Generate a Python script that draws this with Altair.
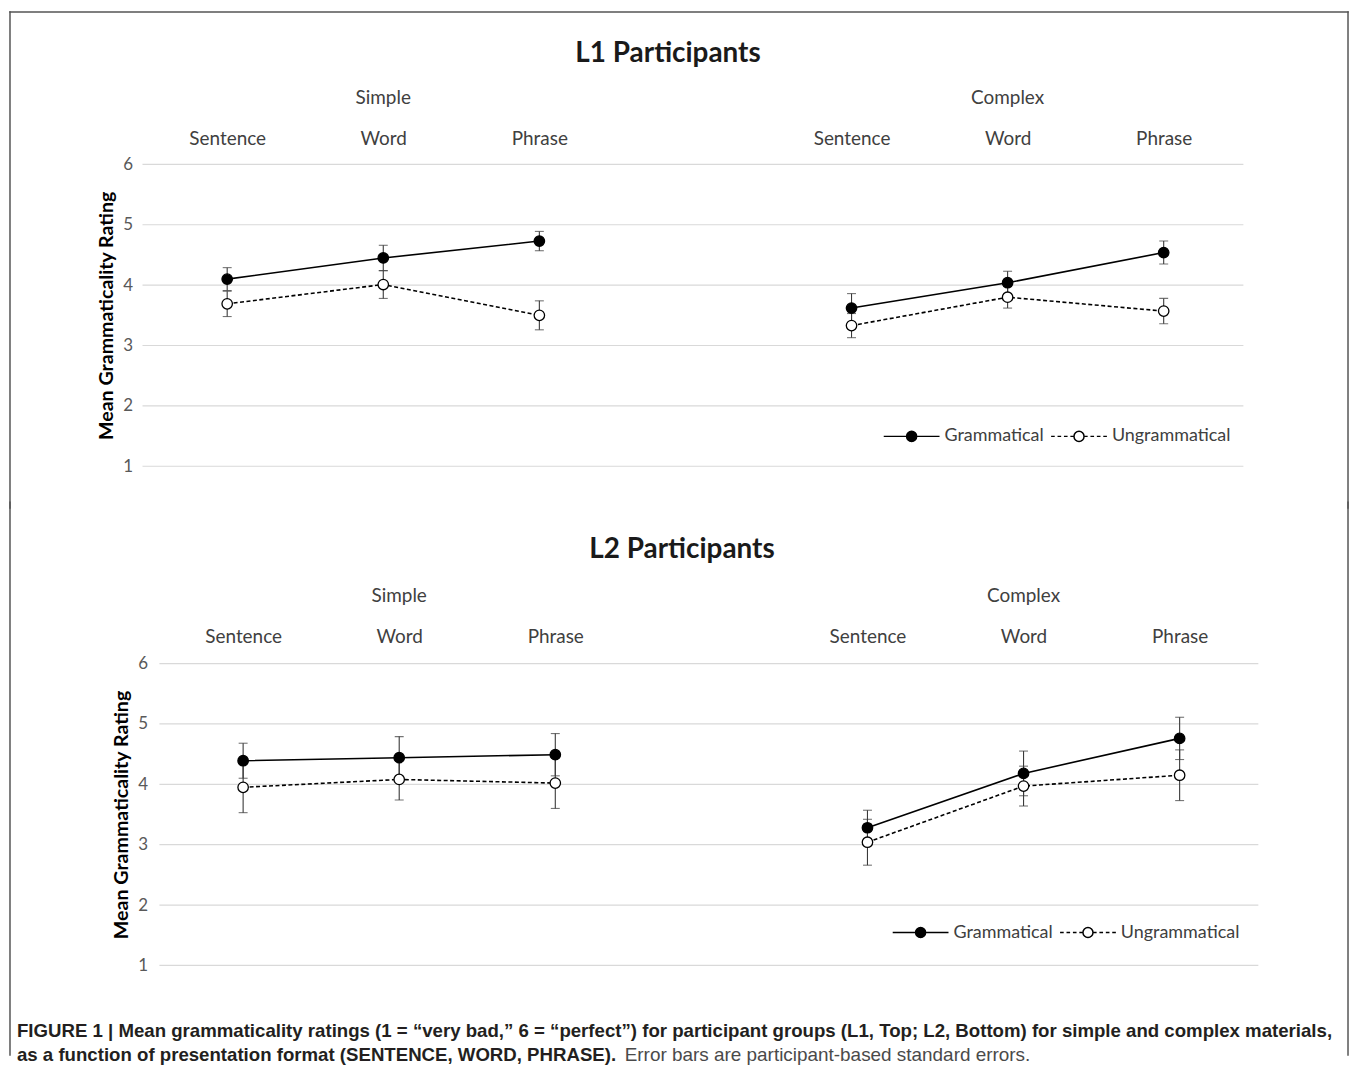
import altair as alt
import pandas as pd

# ---------------- data ----------------
categories = ["Sentence", "Word", "Phrase"]
groups = ["Simple", "Complex"]
types = ["Grammatical", "Ungrammatical"]
y_ticks = [1, 2, 3, 4, 5, 6]

# order: Simple Sentence, Word, Phrase, Complex Sentence, Word, Phrase
l1_gram_mean = [4.10, 4.45, 4.73, 3.62, 4.04, 4.54]
l1_gram_se = [0.19, 0.21, 0.16, 0.24, 0.19, 0.19]
l1_ungram_mean = [3.69, 4.01, 3.50, 3.33, 3.80, 3.57]
l1_ungram_se = [0.21, 0.23, 0.24, 0.20, 0.18, 0.21]

l2_gram_mean = [4.39, 4.44, 4.49, 3.28, 4.18, 4.76]
l2_gram_se = [0.29, 0.35, 0.35, 0.29, 0.37, 0.35]
l2_ungram_mean = [3.95, 4.08, 4.02, 3.04, 3.97, 4.15]
l2_ungram_se = [0.42, 0.34, 0.42, 0.38, 0.33, 0.42]

panel_titles = ["L1 Participants", "L2 Participants"]
y_title = "Mean Grammaticality  Rating"

caption_line1 = ("FIGURE 1 | Mean grammaticality ratings (1 = \u201cvery bad,\u201d 6 = \u201cperfect\u201d) "
                 "for participant groups (L1, Top; L2, Bottom) for simple and complex materials,")
caption_line2_bold = "as a function of presentation format (SENTENCE, WORD, PHRASE)."
caption_line2_normal = "Error bars are participant-based standard errors."

# ---------------- helpers ----------------
FONT = "Lato"
slot_domain = ([f"{groups[0]}|{c}" for c in categories] + ["gap"]
               + [f"{groups[1]}|{c}" for c in categories])


def make_df(gm, gs, um, us):
    rows = []
    combos = [(g, c) for g in groups for c in categories]
    for t, m, s in ((types[0], gm, gs), (types[1], um, us)):
        for i, (g, c) in enumerate(combos):
            rows.append({"type": t, "group": g, "cat": c, "slot": f"{g}|{c}",
                         "mean": m[i], "lo": m[i] - s[i], "hi": m[i] + s[i]})
    return pd.DataFrame(rows)


R = 0.18
circle = f"M{R},0A{R},{R},0,1,1,-{R},0A{R},{R},0,1,1,{R},0Z"
G_PATH = f"M-1,0L-{R},0M{R},0L1,0" + circle
dash_segs = [(-1, -0.87), (-0.77, -0.64), (-0.54, -0.41), (-0.31, -0.18),
             (0.18, 0.31), (0.41, 0.54), (0.64, 0.77), (0.87, 1)]
U_PATH = "".join(f"M{a},0L{b},0" for a, b in dash_segs) + circle

EB = "#3a3a3a"
BORDER = "#555555"
one = pd.DataFrame({"k": [0]})
X_LEFT, X_RIGHT = -133, 1210


def border_layers(y_top, y_bot, top_line):
    lay = [
        alt.Chart(one).mark_rule(color=BORDER, strokeWidth=1.5, strokeCap="square").encode(
            x=alt.value(X_LEFT), y=alt.value(y_top), y2=alt.value(y_bot)),
        alt.Chart(one).mark_rule(color=BORDER, strokeWidth=1.5, strokeCap="square").encode(
            x=alt.value(X_RIGHT), y=alt.value(y_top), y2=alt.value(y_bot)),
    ]
    if top_line:
        lay.append(alt.Chart(one).mark_rule(color=BORDER, strokeWidth=1.5, strokeCap="square").encode(
            x=alt.value(X_LEFT), x2=alt.value(X_RIGHT), y=alt.value(y_top)))
    return lay


def caption_layers(y1, y2):
    size = 18.7
    return [
        alt.Chart(one).mark_text(align="left", baseline="middle", font="Liberation Sans", fontSize=size,
                                 fontWeight="bold", color="#231f20", text=caption_line1).encode(
            x=alt.value(-126), y=alt.value(y1)),
        alt.Chart(one).mark_text(align="left", baseline="middle", font="Liberation Sans", fontSize=size,
                                 fontWeight="bold", color="#231f20", text=caption_line2_bold).encode(
            x=alt.value(-126), y=alt.value(y2)),
        alt.Chart(one).mark_text(align="left", baseline="middle", font="Liberation Sans", fontSize=19,
                                 fontWeight="normal", color="#4a4a4a", text=caption_line2_normal).encode(
            x=alt.value(484), y=alt.value(y2)),
    ]


def panel(title, gm, gs, um, us, xr, gx, axis_off, title_dx, title_off,
          grp_y, lab_pad, leg_x, leg_y, extra):
    df = make_df(gm, gs, um, us)
    grid_df = pd.DataFrame({"tick": y_ticks})
    grp_df = pd.DataFrame({"slot": [f"{g}|Word" for g in groups], "label": groups})

    xenc = alt.X("slot:N",
                 scale=alt.Scale(type="point", domain=slot_domain, range=xr, padding=0.5),
                 axis=alt.Axis(orient="top", title=None, ticks=False, tickSize=0, domain=False,
                               grid=False, labelAngle=0, labelPadding=lab_pad,
                               labelBaseline="middle", labelFont=FONT, labelFontSize=19,
                               labelColor="#404040",
                               labelExpr="datum.label == 'gap' ? '' : split(datum.label, '|')[1]"))
    yscale = alt.Scale(domain=[1, 6], nice=False, zero=False)
    yaxis = alt.Axis(values=y_ticks, grid=False, domain=False, ticks=False, tickSize=0,
                     offset=axis_off, labelPadding=10, labelFont=FONT, labelFontSize=17,
                     labelColor="#595959", title=y_title, titleFont=FONT, titleFontSize=19.7,
                     titleFontWeight="bold", titleColor="black", titlePadding=6)

    def ymean():
        return alt.Y("mean:Q", scale=yscale, axis=yaxis)

    grid = alt.Chart(grid_df).mark_rule(color="#d9d9d9", strokeWidth=1.2).encode(
        y=alt.Y("tick:Q", scale=yscale, axis=yaxis), x=alt.value(gx[0]), x2=alt.value(gx[1]))
    err = alt.Chart(df).mark_rule(color=EB, strokeWidth=1.1).encode(
        x=xenc, y=alt.Y("lo:Q", scale=yscale, axis=yaxis), y2="hi:Q")
    cap_lo = alt.Chart(df).mark_tick(color=EB, thickness=1.1, size=9).encode(
        x=xenc, y=alt.Y("lo:Q", scale=yscale, axis=yaxis))
    cap_hi = alt.Chart(df).mark_tick(color=EB, thickness=1.1, size=9).encode(
        x=xenc, y=alt.Y("hi:Q", scale=yscale, axis=yaxis))

    line_u = alt.Chart(df).transform_filter(alt.datum.type == types[1]).mark_line(
        color="black", strokeWidth=1.6, strokeDash=[4, 2.5]).encode(x=xenc, y=ymean(), detail="group:N")
    line_g = alt.Chart(df).transform_filter(alt.datum.type == types[0]).mark_line(
        color="black", strokeWidth=1.6).encode(x=xenc, y=ymean(), detail="group:N")
    pts_u = alt.Chart(df).transform_filter(alt.datum.type == types[1]).mark_point(
        shape="circle", filled=True, size=110, fill="white", stroke="black", strokeWidth=1.3,
        opacity=1).encode(x=xenc, y=ymean())
    pts_g = alt.Chart(df).transform_filter(alt.datum.type == types[0]).mark_point(
        shape="circle", filled=True, size=110, fill="black", stroke="black", strokeWidth=1.3,
        opacity=1).encode(x=xenc, y=ymean())

    legend = alt.Legend(orient="none", legendX=leg_x, legendY=leg_y, direction="horizontal",
                        title=None, symbolSize=3136, symbolOpacity=1,
                        symbolStrokeWidth=1.5, labelFont=FONT, labelFontSize=18,
                        labelColor="#404040", labelOffset=4, columnPadding=4, padding=0)
    leg = alt.Chart(df).mark_point(filled=True, opacity=0, size=3136, strokeWidth=1.5).encode(
        x=xenc, y=ymean(),
        shape=alt.Shape("type:N", scale=alt.Scale(domain=types, range=[G_PATH, U_PATH]), legend=legend),
        color=alt.Color("type:N", scale=alt.Scale(domain=types, range=["black", "white"]), legend=legend),
        stroke=alt.Stroke("type:N", scale=alt.Scale(domain=types, range=["black", "black"]), legend=legend))

    grp = alt.Chart(grp_df).mark_text(font=FONT, fontSize=19, color="#404040", baseline="middle").encode(
        x=xenc, y=alt.value(grp_y), text="label:N")

    layers = [grid, err, cap_lo, cap_hi, line_u, line_g, pts_u, pts_g, leg, grp] + extra
    return alt.layer(*layers).properties(
        width=1120, height=303,
        title=alt.TitleParams(title, anchor="middle", frame="bounds", offset=title_off,
                              baseline="bottom", dx=title_dx, font=FONT, fontSize=28,
                              fontWeight="bold", color="#1a1a1a"))


top = panel(panel_titles[0], l1_gram_mean, l1_gram_se, l1_ungram_mean, l1_ungram_se,
            xr=[6.67, 1103.33], gx=[0, 1105], axis_off=0, title_dx=-11, title_off=-85.75,
            grp_y=-67, lab_pad=26, leg_x=743, leg_y=244,
            extra=border_layers(-153, 345, True))
bottom = panel(panel_titles[1], l2_gram_mean, l2_gram_se, l2_ungram_mean, l2_ungram_se,
               xr=[22.67, 1119.33], gx=[17, 1120], axis_off=-15, title_dx=3, title_off=-90.75,
               grp_y=-68, lab_pad=27, leg_x=752, leg_y=241,
               extra=border_layers(-162, 393, False) + caption_layers(369, 393))

chart = alt.vconcat(top, bottom, spacing=198, bounds="flush").resolve_scale(
    color="independent", shape="independent", stroke="independent"
).resolve_legend(color="independent", shape="independent", stroke="independent").properties(
    padding=0
).configure_view(strokeWidth=0)

chart.save("out.html", embed_options={"renderer": "svg", "actions": False})
